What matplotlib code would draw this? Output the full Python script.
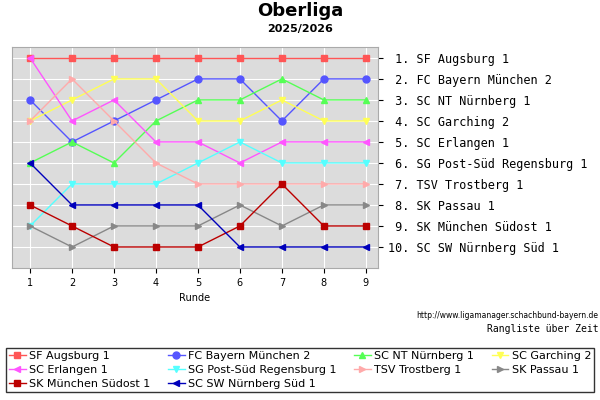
import matplotlib
matplotlib.use("Agg")
import matplotlib.pyplot as plt

rounds = [1, 2, 3, 4, 5, 6, 7, 8, 9]
teams = ["SF Augsburg 1", "FC Bayern München 2", "SC NT Nürnberg 1", "SC Garching 2",
         "SC Erlangen 1", "SG Post-Süd Regensburg 1", "TSV Trostberg 1", "SK Passau 1",
         "SK München Südost 1", "SC SW Nürnberg Süd 1"]
ranks = [
    [1, 1, 1, 1, 1, 1, 1, 1, 1],
    [3, 5, 4, 3, 2, 2, 4, 2, 2],
    [6, 5, 6, 4, 3, 3, 2, 3, 3],
    [4, 3, 2, 2, 4, 4, 3, 4, 4],
    [1, 4, 3, 5, 5, 6, 5, 5, 5],
    [9, 7, 7, 7, 6, 5, 6, 6, 6],
    [4, 2, 4, 6, 7, 7, 7, 7, 7],
    [9, 10, 9, 9, 9, 8, 9, 8, 8],
    [8, 9, 10, 10, 10, 9, 7, 9, 9],
    [6, 8, 8, 8, 8, 10, 10, 10, 10],
]
final_order = teams
colors = ["#ff5555", "#5555ff", "#55ff55", "#ffff55", "#ff55ff", "#55ffff",
          "#ffaaaa", "#888888", "#bb0000", "#0000bb"]
markers = ["s", "o", "^", "v", "<", "v", ">", ">", "s", "<"]

fig = plt.figure(figsize=(6, 4), dpi=100)
ax = fig.add_axes([0.02, 0.33, 0.61, 0.5525])
ax.set_facecolor("#dcdcdc")
for i, t in enumerate(teams):
    ax.plot(rounds, ranks[i], color=colors[i], marker=markers[i], markersize=5,
            linewidth=1, label=t)
ax.set_xlim(0.57, 9.29)
ax.set_ylim(11.0, 0.48)
ax.set_xticks(rounds)
ax.tick_params(axis="x", labelsize=7)
ax.set_yticks(range(1, 11))
ax.set_yticklabels([f"{i + 1:>2}. {t}" for i, t in enumerate(final_order)],
                   family="DejaVu Sans Mono", fontsize=8.5)
ax.yaxis.tick_right()
ax.grid(True, color="white", linewidth=0.8)
ax.set_axisbelow(True)
for s in ax.spines.values():
    s.set_color("#aaaaaa")
ax.set_xlabel("Runde", fontsize=7)

fig.text(0.5, 0.995, "Oberliga", ha="center", va="top", fontsize=13, weight="bold")
fig.text(0.5, 0.94, "2025/2026", ha="center", va="top", fontsize=8, weight="bold")
fig.text(0.997, 0.205, "http://www.ligamanager.schachbund-bayern.de", ha="right",
         fontsize=5.5)
fig.text(0.997, 0.17, "Rangliste über Zeit", ha="right", fontsize=7,
         family="DejaVu Sans Mono")

h, l = ax.get_legend_handles_labels()
order = [0, 4, 8, 1, 5, 9, 2, 6, 3, 7]
fig.legend([h[i] for i in order], [l[i] for i in order], loc="lower left",
           bbox_to_anchor=(0.0, 0.005, 1.0, 0.155), ncol=4, mode="expand",
           fontsize=8, frameon=True, fancybox=False, edgecolor="black",
           handlelength=1.5, handletextpad=0.3, borderpad=0.3,
           labelspacing=0.35, columnspacing=0.3)
fig.savefig("out.png")
